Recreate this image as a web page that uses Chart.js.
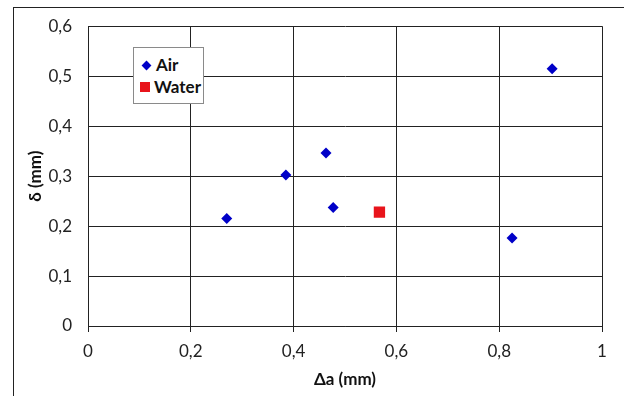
<!DOCTYPE html>
<html>
<head>
<meta charset="utf-8">
<script src="https://cdn.jsdelivr.net/npm/chart.js@4"></script>
<style>
  body { margin: 0; background: #fff; }
  #wrap { position: relative; width: 624px; height: 396px; overflow: hidden; }
  #frame { position: absolute; left: 13px; top: 7px; width: 700px; height: 500px;
    border-left: 1px solid #222; border-top: 1px solid #222; }
  #legend { position: absolute; left: 133px; top: 47px; width: 69px; height: 55px;
    border: 1px solid #8a8a8a; background: #fff; font: bold 17px Lato, sans-serif; color: #111; }
  #legend div { position: absolute; left: 0; white-space: nowrap; }
  #legend span.mk { display: inline-block; vertical-align: middle; }
</style>
</head>
<body>
<div id="wrap">
  <div id="frame"></div>
  <canvas id="chart" width="624" height="396"></canvas>
  <div id="legend"></div>
</div>
<script>
const airX = [0.27, 0.385, 0.463, 0.477, 0.825, 0.903];
const airY = [0.215, 0.302, 0.346, 0.237, 0.176, 0.515];
const waterX = [0.567];
const waterY = [0.228];
const xTicks = [0, 0.2, 0.4, 0.6, 0.8, 1];
const yTicks = [0, 0.1, 0.2, 0.3, 0.4, 0.5, 0.6];

const toPts = (xs, ys) => xs.map((x, i) => ({x: x, y: ys[i]}));
const comma = v => String(Math.round(v * 10) / 10).replace('.', ',');
const tickFont = {family: 'Lato', size: 17};
const titleFont = {family: 'Lato', size: 17, weight: 'bold'};

const ctx = document.getElementById('chart');

const chart = new Chart(ctx, {
  type: 'scatter',
  data: {
    datasets: [{
      label: 'Air',
      data: toPts(airX, airY),
      pointStyle: 'rectRot',
      pointRadius: 5.5,
      backgroundColor: '#0000c8',
      borderColor: '#0000c8',
      borderWidth: 0
    }, {
      label: 'Water',
      data: toPts(waterX, waterY),
      pointStyle: 'rect',
      pointRadius: 8,
      backgroundColor: '#e8141b',
      borderColor: '#e8141b',
      borderWidth: 0
    }]
  },
  options: {
    responsive: false,
    animation: false,
    layout: {padding: {left: 0, right: 22, top: 23, bottom: 0}},
    plugins: {legend: {display: false}, tooltip: {enabled: false}},
    scales: {
      x: {
        type: 'linear', min: 0, max: 1,
        afterBuildTicks: s => { s.ticks = xTicks.map(v => ({value: v})); },
        afterFit: s => { s.height = 70; },
        ticks: {callback: v => comma(v), font: tickFont, color: '#222', padding: 9, maxRotation: 0},
        grid: {color: '#222', lineWidth: 1, tickLength: 6},
        border: {color: '#222', width: 1},
        title: {display: true, text: 'Δa (mm)', font: titleFont, color: '#111', padding: {top: 0, bottom: 6}}
      },
      y: {
        type: 'linear', min: 0, max: 0.6,
        afterBuildTicks: s => { s.ticks = yTicks.map(v => ({value: v})); },
        afterFit: s => { s.width = 88; },
        ticks: {callback: v => comma(v), font: tickFont, color: '#222', padding: 16},
        grid: {color: '#222', lineWidth: 1, drawTicks: false},
        border: {color: '#222', width: 1},
        title: {display: true, text: 'δ (mm)', font: titleFont, color: '#111', padding: {top: 25, bottom: 0}}
      }
    }
  }
});

// legend box drawn from the dataset styles
const legend = document.getElementById('legend');
chart.data.datasets.forEach((ds, i) => {
  const row = document.createElement('div');
  row.style.top = (i === 0 ? 6 : 28) + 'px';
  row.style.left = (i === 0 ? 7 : 5) + 'px';
  const mk = document.createElement('span');
  mk.className = 'mk';
  if (ds.pointStyle === 'rectRot') {
    mk.style.cssText = 'width:7px;height:7px;background:' + ds.backgroundColor +
      ';transform:rotate(45deg);margin:0 6px 3px 2px;';
  } else {
    mk.style.cssText = 'width:10px;height:10px;background:' + ds.backgroundColor +
      ';margin:0 4px 3px 1px;';
  }
  row.appendChild(mk);
  row.appendChild(document.createTextNode(ds.label));
  legend.appendChild(row);
});
</script>
</body>
</html>
